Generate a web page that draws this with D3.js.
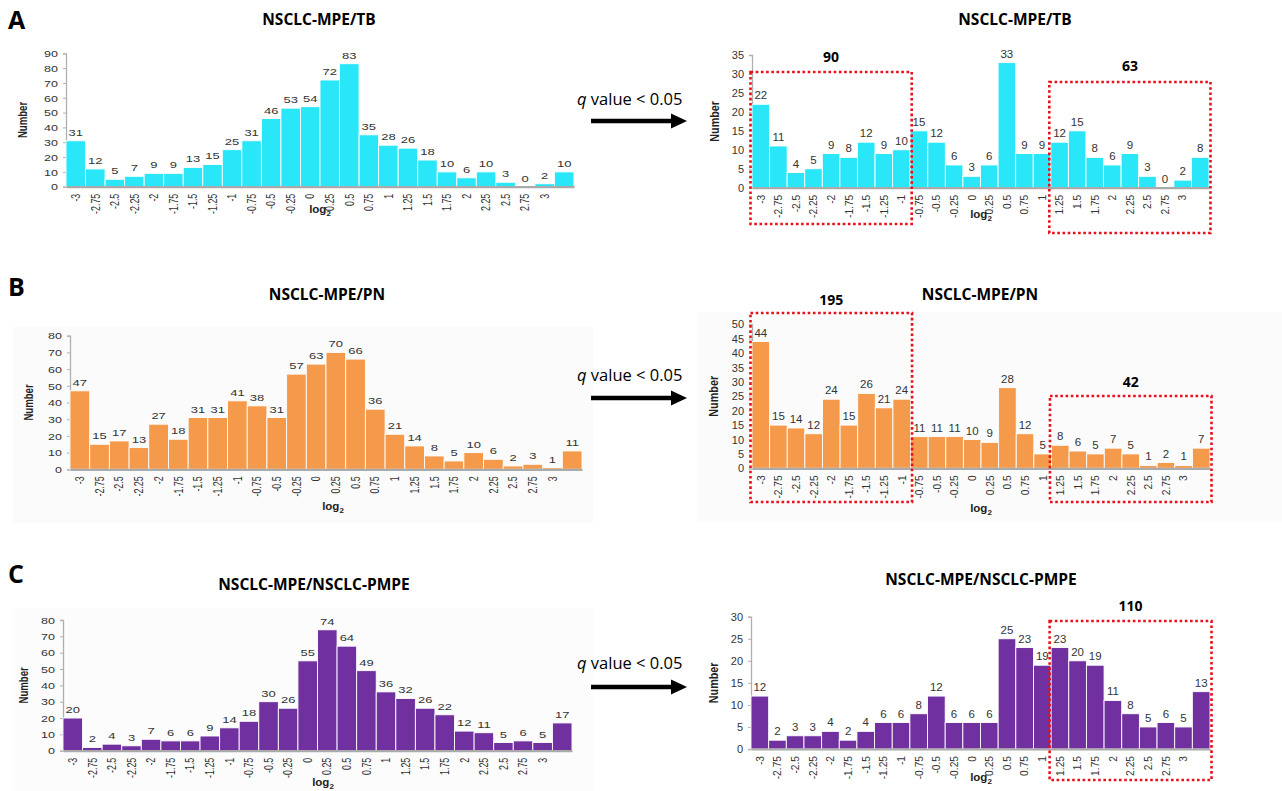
<!DOCTYPE html>
<html><head><meta charset="utf-8">
<script src="https://cdn.jsdelivr.net/npm/d3@7"></script>
<style>body{margin:0;background:#fff}svg{display:block}</style>
</head><body>
<script>
// ---- data ----
const binLabels = ["-3","-2.75","-2.5","-2.25","-2","-1.75","-1.5","-1.25","-1","-0.75","-0.5","-0.25","0","0.25","0.5","0.75","1","1.25","1.5","1.75","2","2.25","2.5","2.75","3",""];
const tbAll = [31,12,5,7,9,9,13,15,25,31,46,53,54,72,83,35,28,26,18,10,6,10,3,0,2,10];
const tbSig = [22,11,4,5,9,8,12,9,10,15,12,6,3,6,33,9,9,12,15,8,6,9,3,0,2,8];
const pnAll = [47,15,17,13,27,18,31,31,41,38,31,57,63,70,66,36,21,14,8,5,10,6,2,3,1,11];
const pnSig = [44,15,14,12,24,15,26,21,24,11,11,11,10,9,28,12,5,8,6,5,7,5,1,2,1,7];
const pmAll = [20,2,4,3,7,6,6,9,14,18,30,26,55,74,64,49,36,32,26,22,12,11,5,6,5,17];
const pmSig = [12,2,3,3,4,2,4,6,6,8,12,6,6,6,25,23,19,23,20,19,11,8,5,6,5,13];
const titles = ["NSCLC-MPE/TB","NSCLC-MPE/PN","NSCLC-MPE/NSCLC-PMPE"];
const panelLetters = ["A","B","C"];
const tbBoxes = [{from:0,to:8,count:90},{from:17,to:25,count:63}];
const pnBoxes = [{from:0,to:8,count:195},{from:17,to:25,count:42}];
const pmBoxes = [{from:17,to:25,count:110}];
const colors = ["#29e7f9","#f5994a","#7030a0"];

const W = 1282, H = 791;
const svg = d3.select("body").append("svg").attr("width", W).attr("height", H)
  .style("font-family", "Arial, 'Liberation Sans', sans-serif");

// faint panel backgrounds
svg.append("rect").attr("x",13).attr("y",327).attr("width",580).attr("height",196).attr("fill","#fbfbfb");
svg.append("rect").attr("x",698).attr("y",312).attr("width",584).attr("height",210).attr("fill","#fbfbfb");
svg.append("rect").attr("x",13).attr("y",608).attr("width",580).attr("height",183).attr("fill","#fcfcfc");

function panel(cfg){
  const g = svg.append("g");
  const sq = cfg.sq;
  const x = d3.scaleBand().domain(d3.range(cfg.values.length)).range([cfg.x0, cfg.x1]).paddingInner(0).paddingOuter(0);
  const y = d3.scaleLinear().domain([0, cfg.yMax]).range([cfg.yBase, cfg.yTop]);
  // y axis
  const ya = g.append("g").attr("transform", `translate(${cfg.x0},0)`)
    .call(d3.axisLeft(y).tickValues(d3.range(0, cfg.yMax + 0.001, cfg.step)).tickSize(3).tickPadding(5));
  ya.select(".domain").attr("stroke","#b0b0b0").attr("stroke-width",1.3);
  ya.selectAll(".tick line").attr("stroke","#b0b0b0");
  ya.selectAll("text").attr("fill","#333").style("font-size", cfg.fy + "px")
    .attr("transform",`scale(1,${sq})`).attr("dy","0.35em");
  // bars
  g.selectAll("rect.bar").data(cfg.values).join("rect").attr("class","bar")
    .attr("x",(d,i)=>x(i)).attr("width",x.bandwidth())
    .attr("y",d=>y(d)).attr("height",d=>cfg.yBase - y(d))
    .attr("fill",cfg.color).attr("stroke","#fff").attr("stroke-width",0.9);
  // value labels
  g.selectAll("text.val").data(cfg.values).join("text").attr("class","val")
    .attr("transform",(d,i)=>`translate(${x(i)+x.bandwidth()/2},${y(d)-5}) scale(1,${sq})`)
    .attr("text-anchor","middle").attr("fill","#333").style("font-size",cfg.fv+"px")
    .text(d=>d);
  // x axis
  const xa = g.append("g").attr("transform",`translate(0,${cfg.yBase})`)
    .call(d3.axisBottom(x).tickSize(0).tickPadding(0).tickFormat(i=>binLabels[i]));
  xa.select(".domain").attr("stroke","#aaa").attr("stroke-width",2.2);
  xa.selectAll("text").attr("fill","#333").style("font-size",cfg.fx+"px")
    .attr("transform",`rotate(-90) scale(${sq},1)`).attr("text-anchor","end")
    .attr("x",-7/sq).attr("y",0).attr("dy","0.35em");
  // axis titles
  g.append("text").attr("transform",`translate(${cfg.x0 - cfg.numOff},${(cfg.yBase+cfg.yTop)/2}) rotate(-90) scale(${cfg.numSq},1)`)
    .attr("text-anchor","middle").attr("font-weight","bold").style("font-size","12px").attr("fill","#222").text("Number");
  const lg = g.append("text").attr("x",cfg.logX).attr("y",cfg.logY).attr("text-anchor","middle")
    .attr("font-weight","bold").style("font-size","11.5px").attr("fill","#222");
  lg.append("tspan").text("log");
  lg.append("tspan").attr("dy",2.5).style("font-size","8px").text("2");
  // title
  svg.append("text").attr("x",cfg.tx).attr("y",cfg.ty).attr("text-anchor","middle")
    .attr("font-weight","bold").style("font-family","'Open Sans', sans-serif").style("font-size","15.5px")
    .attr("fill","#000").text(cfg.title);
  // highlight boxes
  (cfg.boxes||[]).forEach((b,k)=>{
    const bx0 = x(b.from)-1.5, bx1 = x(b.to)+x.bandwidth()+1.5;
    g.append("rect").attr("x",bx0).attr("y",cfg.boxY[k][0]).attr("width",bx1-bx0).attr("height",cfg.boxY[k][1]-cfg.boxY[k][0])
      .attr("fill","none").attr("stroke","#e8101a").attr("stroke-width",2.6).attr("stroke-dasharray","2.6,2.6");
    g.append("text").attr("x",(bx0+bx1)/2).attr("y",cfg.boxLab[k])
      .attr("text-anchor","middle").attr("font-weight","bold").style("font-family","'Open Sans', sans-serif")
      .style("font-size","14px").attr("fill","#000").text(b.count);
  });
}

const L = {fy:12.5, fv:13, fx:12, sq:0.74, numSq:0.8};
const R = {fy:11, fv:11.5, fx:11, sq:0.93, numSq:0.9};

panel({...L,values:tbAll,color:colors[0],x0:66,x1:574,yBase:186.7,yTop:53.3,yMax:90,step:10,numOff:39,logX:320,logY:213,title:titles[0],tx:319,ty:25});
panel({...R,values:tbSig,color:colors[0],x0:752,x1:1209,yBase:187.7,yTop:55,yMax:35,step:5,numOff:33,logX:981,logY:218,title:titles[0],tx:1015,ty:25,
  boxes:tbBoxes,boxY:[[72,224],[82,233]],boxLab:[62,71]});
panel({...L,values:pnAll,color:colors[1],x0:70,x1:582,yBase:469.3,yTop:335.7,yMax:80,step:10,numOff:37,logX:333,logY:510,title:titles[1],tx:327,ty:300});
panel({...R,values:pnSig,color:colors[1],x0:752,x1:1210,yBase:468.3,yTop:324.3,yMax:50,step:5,numOff:34,logX:981,logY:512,title:titles[1],tx:980,ty:300,
  boxes:pnBoxes,boxY:[[313,502],[396,502]],boxLab:[305,387]});
panel({...L,values:pmAll,color:colors[2],x0:63,x1:572,yBase:750.7,yTop:620,yMax:80,step:10,numOff:35,logX:323,logY:786,title:titles[2],tx:314,ty:590});
panel({...R,values:pmSig,color:colors[2],x0:751,x1:1210,yBase:749,yTop:616.7,yMax:30,step:5,numOff:33,logX:981,logY:781,title:titles[2],tx:981,ty:585,
  boxes:pmBoxes,boxY:[[621,780]],boxLab:[611]});

// panel letters
[[8,29],[8,296],[8,583]].forEach((p,i)=>{
  svg.append("text").attr("x",p[0]).attr("y",p[1]).attr("font-weight","bold")
    .style("font-family","'Open Sans', sans-serif").style("font-size","25px").attr("fill","#000").text(panelLetters[i]);
});

// q value arrows
[[99,121],[375,398],[663,687]].forEach(p=>{
  const t = svg.append("text").attr("x",577).attr("y",p[0]+6).style("font-family","'Open Sans', sans-serif")
    .style("font-size","16.5px").attr("fill","#000");
  t.append("tspan").attr("font-style","italic").text("q");
  t.append("tspan").text(" value < 0.05");
  svg.append("line").attr("x1",591).attr("x2",673).attr("y1",p[1]).attr("y2",p[1]).attr("stroke","#000").attr("stroke-width",4.5);
  svg.append("path").attr("d",`M671,${p[1]-7.5} L687,${p[1]} L671,${p[1]+7.5} Z`).attr("fill","#000");
});
</script>
</body></html>
